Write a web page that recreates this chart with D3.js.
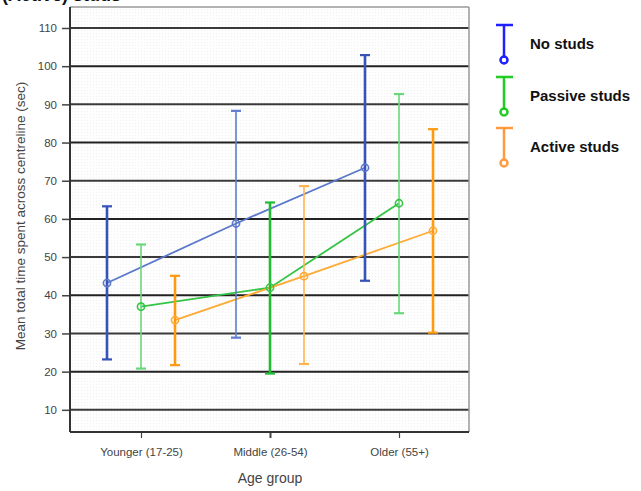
<!DOCTYPE html>
<html><head><meta charset="utf-8">
<script src="https://cdn.jsdelivr.net/npm/d3@7"></script>
<style>body{margin:0;background:#fff;}svg{display:block;font-family:"Liberation Sans",Arial,sans-serif;}</style>
</head><body>
<svg id="c" width="641" height="491"></svg>
<script>
const categories = ["Younger (17-25)", "Middle (26-54)", "Older (55+)"];
const seriesNames = ["No studs", "Passive studs", "Active studs"];
const noStudsMean = [43.2, 58.8, 73.4];
const noStudsLow = [23.2, 28.9, 43.8];
const noStudsHigh = [63.3, 88.3, 102.9];
const passiveMean = [37.0, 42.0, 64.1];
const passiveLow = [20.8, 19.5, 35.3];
const passiveHigh = [53.3, 64.3, 92.7];
const activeMean = [33.5, 45.0, 56.9];
const activeLow = [21.7, 22.0, 30.2];
const activeHigh = [45.1, 68.6, 83.5];
const yTicks = [10, 20, 30, 40, 50, 60, 70, 80, 90, 100, 110];

const series = [
  {name: seriesNames[0], mean: noStudsMean, low: noStudsLow, high: noStudsHigh,
   line: "#5a78cc", thick: "#3553b8", thin: "#5f7ed0", legend: "#1f1fff"},
  {name: seriesNames[1], mean: passiveMean, low: passiveLow, high: passiveHigh,
   line: "#35c445", thick: "#22bb33", thin: "#6ad87a", legend: "#22cc22"},
  {name: seriesNames[2], mean: activeMean, low: activeLow, high: activeHigh,
   line: "#ffaa33", thick: "#ff9a10", thin: "#ffb450", legend: "#ff9a40"}
];

const svg = d3.select("#c");
const L = 70, R = 469, T = 7, B = 432;

// pattern
const defs = svg.append("defs");
const pat = defs.append("pattern").attr("id","dots").attr("width",3).attr("height",3).attr("patternUnits","userSpaceOnUse");
pat.append("rect").attr("width",3).attr("height",3).attr("fill","#fefefe");
pat.append("rect").attr("width",1).attr("height",1).attr("fill","#f1f1f1");

// title (partially cut, as in the reference)
svg.append("text").attr("x",2).attr("y",1).attr("font-size",18).attr("font-weight","bold").attr("fill","#111").text("(Active) studs");

svg.append("rect").attr("x",L).attr("y",T).attr("width",R-L).attr("height",B-T).attr("fill","url(#dots)");

const y = d3.scaleLinear().domain([0, 110]).range([448, 28]);
const x = d3.scalePoint().domain(categories).range([141, 399]);
const offsets = [-34, 0, 34];

// gridlines
svg.append("g").selectAll("line").data(yTicks).join("line")
  .attr("x1", L).attr("x2", R)
  .attr("y1", d => y(d)).attr("y2", d => y(d))
  .attr("stroke", (d,i) => i % 2 ? "#222" : "#3a3a3a").attr("stroke-width", 2);

// frame
svg.append("line").attr("x1",L).attr("x2",R).attr("y1",T).attr("y2",T).attr("stroke","#999").attr("stroke-width",1.5);
svg.append("line").attr("x1",R).attr("x2",R).attr("y1",T).attr("y2",B).attr("stroke","#999").attr("stroke-width",1.5);

// y axis
const yAxis = d3.axisLeft(y).tickValues(yTicks).tickSize(8).tickSizeOuter(0).tickPadding(5);
const gy = svg.append("g").attr("transform", `translate(${L},0)`).call(yAxis);
gy.select(".domain").remove();
gy.append("line").attr("x1",0).attr("x2",0).attr("y1",T).attr("y2",B).attr("stroke","#333").attr("stroke-width",2);
gy.selectAll(".tick line").attr("stroke","#444").attr("stroke-width",1.5);
gy.selectAll(".tick text").attr("font-size",11.5).attr("fill","#444").attr("font-family","Liberation Sans, Arial, sans-serif");

// x axis
const xAxis = d3.axisBottom(x).tickSize(6).tickSizeOuter(0).tickPadding(10);
const gx = svg.append("g").attr("transform", `translate(0,${B})`).call(xAxis);
gx.select(".domain").remove();
gx.append("line").attr("x1",L).attr("x2",R).attr("y1",0).attr("y2",0).attr("stroke","#333").attr("stroke-width",2);
gx.selectAll(".tick line").attr("stroke","#444").attr("stroke-width",(d,i)=> i===1?2:1.2);
gx.selectAll(".tick text").attr("font-size",11.5).attr("fill","#444").attr("font-family","Liberation Sans, Arial, sans-serif");

// axis titles
svg.append("text").attr("x",270).attr("y",483).attr("text-anchor","middle").attr("font-size",14).attr("fill","#444").text("Age group");
svg.append("text").attr("transform","translate(25,216) rotate(-90)").attr("text-anchor","middle").attr("font-size",13.5).attr("fill","#444").text("Mean total time spent across centreline (sec)");

// lines connecting means
series.forEach((s, si) => {
  const line = d3.line().x((d,i) => x(categories[i]) + offsets[si]).y(d => y(d));
  svg.append("path").datum(s.mean).attr("d", line).attr("fill","none").attr("stroke", s.line).attr("stroke-width",1.8);
});

// error bars
series.forEach((s, si) => {
  categories.forEach((c, ci) => {
    const thick = (si + ci) % 2 === 0;
    const col = thick ? s.thick : s.thin;
    const w = thick ? 2.6 : 1.6;
    const cx = x(c) + offsets[si];
    const g = svg.append("g");
    g.append("line").attr("x1",cx).attr("x2",cx).attr("y1",y(s.low[ci])).attr("y2",y(s.high[ci])).attr("stroke",col).attr("stroke-width",w);
    [s.low[ci], s.high[ci]].forEach(v => {
      g.append("line").attr("x1",cx-5).attr("x2",cx+5).attr("y1",y(v)).attr("y2",y(v)).attr("stroke",col).attr("stroke-width",2.2);
    });
    g.append("circle").attr("cx",cx).attr("cy",y(s.mean[ci])).attr("r",3.6).attr("fill","none").attr("stroke",s.line).attr("stroke-width",1.6);
  });
});

// legend
const legY = [25, 77, 128];
series.forEach((s, i) => {
  const g = svg.append("g").attr("transform", `translate(504,${legY[i]})`);
  g.append("line").attr("x1",-8).attr("x2",9).attr("y1",0).attr("y2",0).attr("stroke",s.legend).attr("stroke-width",2.5);
  g.append("line").attr("x1",0).attr("x2",0).attr("y1",0).attr("y2",33).attr("stroke",s.legend).attr("stroke-width",2.5);
  g.append("circle").attr("cx",0).attr("cy",35).attr("r",3.5).attr("fill","none").attr("stroke",s.legend).attr("stroke-width",2.5);
  g.append("text").attr("x",26).attr("y",24).attr("font-size",15).attr("font-weight","bold").attr("fill","#111").text(s.name);
});
</script>
</body></html>
